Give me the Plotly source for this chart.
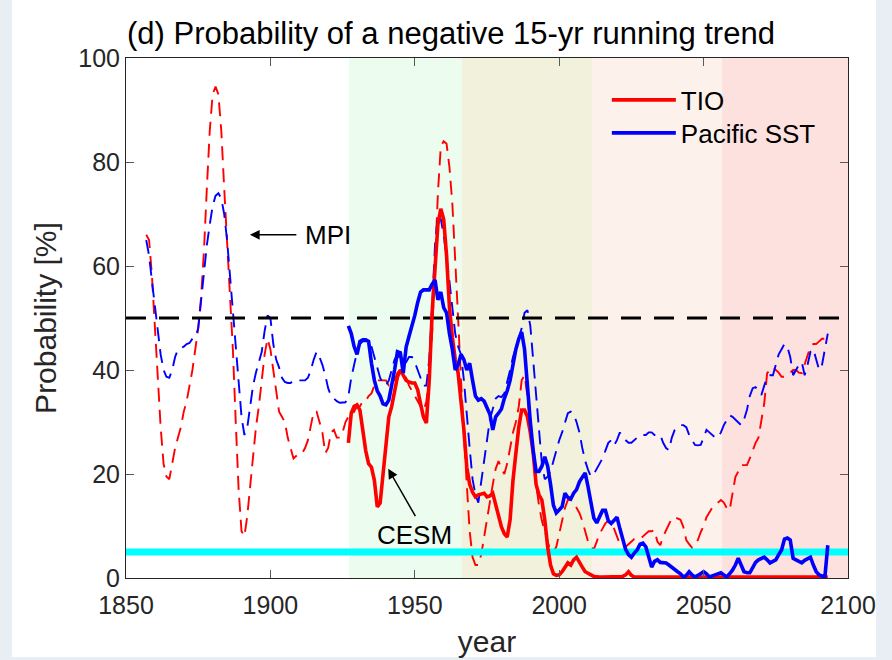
import plotly.graph_objects as go

# ---- MPI large ensemble (dashed) ----
mpi_tio_years = list(range(1857, 2094))
mpi_tio = [
    66, 65, 58, 48, 38, 29, 22, 19.5, 19, 22, 25, 27, 29, 32, 34, 37, 40, 44, 48, 54,   # 1857-1876
    63, 75, 86, 93, 94.5, 93, 86, 75, 64, 54, 44, 30, 17, 9, 8, 12, 18, 24, 29, 33,      # 1877-1896
    38, 43, 46, 44, 40, 36, 32, 31, 30, 27, 25, 23, 23.5, 24, 24, 25, 26.5, 29, 32, 32,  # 1897-1916
    30, 28, 24, 25, 28, 28.5, 27, 27, 28, 30, 31, 31, 32, 33, 33, 34, 34, 35, 35.5, 37,  # 1917-1936
    38, 38, 38, 38, 37, 37, 38, 39.5, 40, 39.5, 38.5, 37, 36, 35, 34, 33, 32, 34, 38.5, 47,  # 1937-1956
    60, 74, 83, 84, 83.5, 79, 72, 62, 50, 38, 27, 18, 9, 4, 2.5, 2.5, 4.5, 8, 11, 15,    # 1957-1976
    18, 21, 22.5, 21, 20, 22, 25, 28, 30, 33, 38, 39, 35, 29, 23, 18, 14, 11, 9, 7,      # 1977-1996
    5, 5, 6, 8.5, 11, 13.5, 15, 15, 14.5, 13.5, 12.5, 11, 9, 7, 6, 5.5, 7, 8.5, 9.5, 10.5, # 1997-2016
    11, 10.5, 9.5, 8, 6.5, 6, 6, 6.5, 7, 7.5, 7.5, 7.5, 8, 8.5, 9, 9, 9.2, 7, 6.3, 8,    # 2017-2036
    9.2, 10.5, 11.5, 11.7, 11.5, 11.2, 9.8, 7.3, 6.5, 5.8, 6.5, 7.3, 8.8, 10, 11.7, 12.5, 13.5, 14, 14.5, 15,  # 2037-2056
    14.5, 13.5, 13, 16.3, 19.4, 20.5, 21.7, 21.7, 21.7, 23, 24.6, 26, 27, 30, 33.6, 39.4, 40, 40.6, 40, 39.5,  # 2057-2076
    38.7, 38.7, 39, 39.5, 40, 40, 39.5, 39.4, 41, 43, 44.5, 45, 45, 45.5, 46, 46, 46.5,  # 2077-2093
]
mpi_pac_years = list(range(1857, 2094))
mpi_pac = [
    65, 62, 57, 52, 47, 43, 40, 38.7, 38.5, 40, 42.5, 44, 44.2, 44.5, 45, 45.2, 46, 46.3, 48, 53.5,  # 1857-1876
    59, 64, 68, 71.5, 73.5, 74, 73, 70, 65, 58, 52, 45, 37, 31, 27.5, 29, 33, 37, 39.5, 41.5,        # 1877-1896
    43.5, 47.5, 50.5, 50, 45, 42, 40.5, 38.5, 37.7, 37.5, 37.5, 38, 38, 38, 38, 38, 38.5, 40, 42, 43.5,  # 1897-1916
    42.5, 41, 39, 36.5, 35, 34.5, 34, 33.7, 33.7, 33.8, 35, 38.5, 41, 43.5, 45, 45.5, 45.5, 45.5, 44.5, 42.5,  # 1917-1936
    40.5, 38.5, 37.5, 37, 38, 40, 42, 43, 42, 41, 41.5, 42.5, 42.5, 41.5, 40, 38.5, 37, 37, 42, 52,  # 1937-1956
    64, 70, 69, 66, 62, 57, 52, 47, 44.5, 43, 38, 31, 25, 19, 16, 14.5, 18.5, 23, 27, 30.5,          # 1957-1976
    32.5, 34.5, 35, 34.8, 35.5, 37.5, 40, 42.5, 44.5, 46, 48, 51, 51.5, 48.5, 42, 35, 27.5, 22, 19, 19.5,  # 1977-1996
    20.5, 22.5, 25, 26.5, 28, 30, 31.7, 32, 31.5, 30, 28, 25, 22.5, 20.8, 19.5, 20, 21, 22, 23, 24.5,  # 1997-2016
    26, 26.5, 25.5, 26.5, 28, 27, 26.5, 26, 26, 26.5, 27, 27, 27.5, 27.5, 28, 28, 27.5, 27.5, 27.5, 26,  # 2017-2036
    25, 24.6, 27, 28.5, 29, 29.4, 29.4, 29, 27.5, 26.5, 25.6, 25.5, 25.6, 27, 28.5, 28, 27.5, 27, 27, 28,  # 2037-2056
    29.4, 30.5, 31.3, 31, 30.5, 30, 29.4, 30.5, 32.3, 35, 36.5, 36.7, 36, 35.2, 37, 38.7, 39, 39, 41, 43,  # 2057-2076
    44, 45, 44.5, 42.5, 39, 40, 41, 41.5, 39, 41, 43.5, 44, 42, 40, 41, 44, 47,                      # 2077-2093
]

# ---- CESM large ensemble (solid) ----
cesm_years = list(range(1927, 2094))
cesm_tio = [
    26, 31.7, 33, 33.3, 32.3, 28.5, 24.5, 22, 21.3, 18.8, 13.7, 14.4, 20, 27, 31, 33, 36.2, 38.7, 40, 39,  # 1927-1946
    38, 37.7, 37.5, 37.5, 36.2, 33.5, 31, 29.8, 38, 51, 60, 68, 71, 69, 62, 52, 46.3, 42, 39.4, 34.2,      # 1947-1966
    28.5, 21.3, 18, 16.5, 15.6, 16, 16.2, 16.3, 15.6, 15.8, 16.3, 14, 11.5, 9.8, 8.5, 7.9, 11.2, 18.8, 24, 29,  # 1967-1986
    32.3, 32.3, 31, 28, 24, 18, 16, 15, 11.2, 6, 2.5, 0.8, 0.5, 0.6, 1.2, 2.1, 2.9, 2.5, 3.5, 4,           # 1987-2006
    3.2, 2.1, 1.2, 0.8, 0.6, 0.3, 0.2, 0.2, 0.2, 0.2, 0.2, 0.2, 0.2, 0.2, 0.2, 0.3, 0.6, 1.2, 0.5, 0.2,    # 2007-2026
    0.2, 0.2, 0.2, 0.2, 0.2, 0.2, 0.2, 0.2, 0.2, 0.2, 0.2, 0.2, 0.2, 0.2, 0.2, 0.2, 0.2, 0.2, 0.2, 0.2,    # 2027-2046
    0.2, 0.2, 0.2, 0.2, 0.2, 0.2, 0.2, 0.2, 0.2, 0.2, 0.2, 0.2, 0.2, 0.2, 0.2, 0.2, 0.2, 0.2, 0.2, 0.2,    # 2047-2066
    0.2, 0.2, 0.2, 0.2, 0.2, 0.2, 0.2, 0.2, 0.2, 0.2, 0.2, 0.2, 0.2, 0.2, 0.2, 0.2, 0.2, 0.2, 0.2, 0.2,    # 2067-2086
    0.2, 0.2, 0.2, 0.2, 0.2, 0.2, 0.2,                                                                      # 2087-2093
]
cesm_pac = [
    48.5, 47, 44.5, 43, 45.5, 45.8, 45.8, 45.5, 41.3, 38, 36, 35, 33.5, 33.3, 34.2, 37, 40, 43.5, 43.3, 39.4,  # 1927-1946
    44.4, 46.5, 48.3, 50.5, 53, 55, 55.4, 55.4, 55.4, 56.5, 57.3, 53.5, 55, 52, 51, 47, 44, 40, 41, 43,       # 1947-1966
    42, 40, 41.3, 38, 35, 34.2, 34.5, 34, 32.9, 31.5, 28.5, 31, 31.7, 32.5, 34.5, 36, 38, 41, 44, 46,         # 1967-1986
    47.3, 44, 36, 30, 24.5, 20.5, 20.5, 21.5, 23.3, 21.5, 18, 14, 12.5, 13, 13.7, 16.3, 15.5, 15.2, 16.3, 17, # 1987-2006
    18.5, 19.4, 20.2, 17.5, 14, 11.5, 10.6, 12, 13, 13, 11, 10.5, 11, 11.7, 9.5, 7.5, 5.5, 4.5, 4, 4.8,     # 2007-2026
    5.4, 6.5, 6.7, 6, 4, 2.1, 3.2, 3.5, 3, 2.9, 2.9, 2.5, 2, 1.5, 1.2, 0.8, 0.2, 0.5, 1.2, 0.6,              # 2027-2046
    0.2, 0.5, 0.8, 1.2, 0.8, 0.2, 0.4, 0.6, 0.8, 1, 0.6, 0.2, 0.8, 1.5, 2.5, 3.8, 2.5, 1.2, 1, 1,            # 2047-2066
    2, 3, 3.5, 3.8, 4, 3.5, 2.9, 3.2, 3.5, 4.5, 5.4, 7.5, 7.7, 7.3, 3.8, 3.5, 3.2, 2.9, 3.4, 3.8,            # 2067-2086
    4, 2.5, 1.2, 0.6, 0.4, 0.2, 6.3,                                                                          # 2087-2093
]

# ---- shaded periods and reference levels ----
period_edges = [1927.2, 1966.3, 2011.4, 2056.4, 2100]
period_colors = ["#ECFCEE", "#F2F2DC", "#FDF1EC", "#FDE1DE"]
half_level = 50
low_level = 5

RED = "#FF0000"
BLUE = "#0000FF"
FONT = "Liberation Sans, Arial, Helvetica, sans-serif"

fig = go.Figure()

# MPI dashed curves
fig.add_trace(go.Scatter(x=mpi_tio_years, y=mpi_tio, mode="lines", showlegend=False,
                         line=dict(color=RED, width=1.9, dash="14px,8px")))
fig.add_trace(go.Scatter(x=mpi_pac_years, y=mpi_pac, mode="lines", showlegend=False,
                         line=dict(color=BLUE, width=1.9, dash="14px,8px")))

# reference levels
fig.add_trace(go.Scatter(x=[1850, 2100], y=[half_level, half_level], mode="lines", showlegend=False,
                         line=dict(color="black", width=3, dash="20px,13px")))
fig.add_trace(go.Scatter(x=[1850, 2100], y=[low_level, low_level], mode="lines", showlegend=False,
                         line=dict(color="#00FFFF", width=7)))

# CESM solid curves (each in its own legend box so the rows sit tight)
fig.add_trace(go.Scatter(x=cesm_years, y=cesm_tio, mode="lines", name="TIO", legend="legend",
                         line=dict(color=RED, width=3.6)))
fig.add_trace(go.Scatter(x=cesm_years, y=cesm_pac, mode="lines", name="Pacific SST", legend="legend2",
                         line=dict(color=BLUE, width=3.6)))

shapes = []
# figure canvas (white) over a light surround
shapes.append(dict(type="rect", xref="paper", yref="paper", x0=-0.158, x1=1.0388, y0=-0.152, y1=1.12,
                   fillcolor="white", line=dict(width=0), layer="below"))
for i, c in enumerate(period_colors):
    shapes.append(dict(type="rect", xref="x", yref="paper", x0=period_edges[i], x1=period_edges[i + 1],
                       y0=0, y1=1, fillcolor=c, line=dict(width=0), layer="below"))

annotations = [
    dict(x=1892.9, y=66, ax=1909.5, ay=66, xref="x", yref="y", axref="x", ayref="y",
         text="", showarrow=True, arrowhead=2, arrowsize=1.3, arrowwidth=1.5, arrowcolor="black"),
    dict(x=1911.3, y=66, xref="x", yref="y", text="MPI", showarrow=False, xanchor="left",
         font=dict(size=26, color="black", family=FONT)),
    dict(x=1940.8, y=21, ax=1950.5, ay=11.6, xref="x", yref="y", axref="x", ayref="y",
         text="", showarrow=True, arrowhead=2, arrowsize=1.3, arrowwidth=1.5, arrowcolor="black"),
    dict(x=1950, y=8.2, xref="x", yref="y", text="CESM", showarrow=False,
         font=dict(size=26, color="black", family=FONT)),
]

legend_common = dict(xanchor="left", yanchor="middle", bgcolor="rgba(0,0,0,0)",
                     font=dict(size=26, color="black", family=FONT), itemwidth=64)

fig.update_layout(
    width=892, height=660,
    margin=dict(l=126, r=44, t=58, b=82, autoexpand=False),
    paper_bgcolor="#E9EEF4",
    plot_bgcolor="white",
    font=dict(family=FONT, size=24, color="#262626"),
    title=dict(text="(d) Probability of a negative 15-yr running trend", x=127 / 892, xanchor="left",
               y=1 - 33 / 660, yanchor="middle", font=dict(size=31, color="black", family=FONT)),
    shapes=shapes,
    annotations=annotations,
    legend=dict(x=0.666, y=1 - (100 - 58) / 520, **legend_common),
    legend2=dict(x=0.666, y=1 - (133 - 58) / 520, **legend_common),
    xaxis=dict(range=[1850, 2100], tickvals=[1850, 1900, 1950, 2000, 2050, 2100], automargin=False,
               showgrid=False, zeroline=False, showline=True, linecolor="#262626", linewidth=1,
               mirror="ticks", ticks="inside", ticklen=8, tickcolor="#5a5a5a", tickwidth=1,
               tickfont=dict(size=25, color="#262626"), ticklabelstandoff=5,
               title=dict(text="year", font=dict(size=30, color="#262626"), standoff=12)),
    yaxis=dict(range=[0, 100], tickvals=[0, 20, 40, 60, 80, 100], automargin=False,
               showgrid=False, zeroline=False, showline=True, linecolor="#262626", linewidth=1,
               mirror="ticks", ticks="inside", ticklen=8, tickcolor="#5a5a5a", tickwidth=1,
               tickfont=dict(size=25, color="#262626"),
               title=dict(text="Probability [%]", font=dict(size=30, color="#262626"), standoff=12)),
)

fig.write_html("out.html")
